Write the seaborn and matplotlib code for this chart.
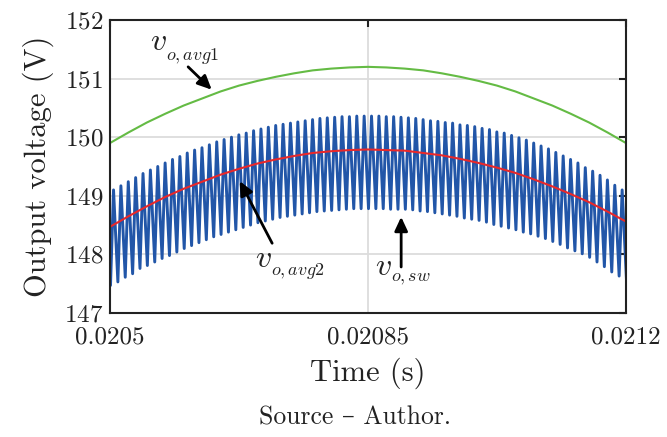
import numpy as np
import pandas as pd
import matplotlib
matplotlib.use("Agg")
import matplotlib.pyplot as plt
import seaborn as sns

# ----------------------------
# 1. DATA
# ----------------------------
T0 = 0.0205          # start of the window (s)
T_SW = 1e-5          # switching period (s)

# peak / trough values of the switched output voltage, one per period
sw_peaks = [
    149.10, 149.17, 149.24, 149.31, 149.38, 149.44, 149.50, 149.56, 149.62, 149.67,
    149.73, 149.78, 149.82, 149.87, 149.92, 149.96, 150.00, 150.04, 150.07, 150.11,
    150.14, 150.17, 150.20, 150.22, 150.24, 150.26, 150.28, 150.30, 150.32, 150.33,
    150.34, 150.35, 150.35, 150.36, 150.36, 150.36, 150.36, 150.35, 150.35, 150.34,
    150.33, 150.32, 150.30, 150.28, 150.27, 150.25, 150.24, 150.21, 150.20, 150.18,
    150.15, 150.13, 150.09, 150.07, 150.03, 149.99, 149.95, 149.90, 149.85, 149.80,
    149.74, 149.68, 149.62, 149.56, 149.48, 149.42, 149.35, 149.27, 149.18, 149.10,
]
sw_troughs = [
    147.47, 147.53, 147.61, 147.67, 147.76, 147.81, 147.87, 147.93, 147.98, 148.04,
    148.10, 148.15, 148.20, 148.25, 148.30, 148.34, 148.38, 148.42, 148.46, 148.50,
    148.54, 148.57, 148.60, 148.63, 148.65, 148.67, 148.69, 148.71, 148.73, 148.74,
    148.75, 148.76, 148.77, 148.78, 148.78, 148.78, 148.78, 148.78, 148.77, 148.77,
    148.77, 148.76, 148.74, 148.73, 148.71, 148.69, 148.67, 148.65, 148.62, 148.60,
    148.58, 148.55, 148.51, 148.48, 148.45, 148.42, 148.38, 148.35, 148.31, 148.27,
    148.22, 148.17, 148.11, 148.06, 148.01, 147.95, 147.87, 147.79, 147.70, 147.63,
    147.56,
]
sw_first = 149.03    # peak just before the window

# averaged voltages sampled every 25 us
avg_time = np.round(np.linspace(0.0205, 0.0212, 29), 6)
avg1 = [149.90, 150.08, 150.25, 150.40, 150.54, 150.66, 150.78, 150.88,
        150.96, 151.03, 151.09, 151.14, 151.17, 151.19, 151.20,
        151.19, 151.17, 151.14, 151.09, 151.03, 150.96, 150.88, 150.78,
        150.66, 150.54, 150.40, 150.25, 150.08, 149.90]
avg2 = [148.47, 148.65, 148.82, 148.98, 149.12, 149.24, 149.36, 149.46,
        149.55, 149.62, 149.68, 149.73, 149.76, 149.78, 149.79,
        149.78, 149.77, 149.73, 149.69, 149.63, 149.56, 149.48, 149.39,
        149.28, 149.16, 149.03, 148.89, 148.73, 148.56]

x_ticks = [0.0205, 0.02085, 0.0212]
x_ticklabels = ["0.0205", "0.02085", "0.0212"]
y_ticks = [147, 148, 149, 150, 151, 152]

# ----------------------------
# 2. BUILD TABLES
# ----------------------------
t_trough = T0 + 0.7e-6 + T_SW * np.arange(len(sw_troughs))
t_peak = T0 + 4.8e-6 + T_SW * np.arange(len(sw_peaks))
t_sw = [T0 - 5.3e-6]
v_sw = [sw_first]
for k in range(len(sw_troughs)):
    t_sw.append(t_trough[k])
    v_sw.append(sw_troughs[k])
    if k < len(sw_peaks):
        t_sw.append(t_peak[k])
        v_sw.append(sw_peaks[k])
df_sw = pd.DataFrame({"t": t_sw, "v": v_sw})
df_avg = pd.DataFrame({"t": avg_time, "avg1": avg1, "avg2": avg2})

# ----------------------------
# 3. STYLE
# ----------------------------
sns.set_theme(style="white")
plt.rcParams["font.family"] = ["cmr10", "DejaVu Serif"]
plt.rcParams["mathtext.fontset"] = "cm"
plt.rcParams["axes.formatter.use_mathtext"] = True

fig = plt.figure(figsize=(6.67, 4.37), dpi=100)
ax = fig.add_axes([0.1649, 0.2838, 0.7736, 0.6705])

# ----------------------------
# 4. PLOT
# ----------------------------
sns.lineplot(data=df_sw, x="t", y="v", ax=ax, color="#2256a8", lw=2.1,
             estimator=None, sort=False, solid_joinstyle="round")
sns.lineplot(data=df_avg, x="t", y="avg2", ax=ax, color="#e8282a", lw=1.5,
             estimator=None)
sns.lineplot(data=df_avg, x="t", y="avg1", ax=ax, color="#64bb44", lw=1.5,
             estimator=None)

ax.set_xlim(0.0205, 0.0212)
ax.set_ylim(147, 152)
ax.set_xticks(x_ticks)
ax.set_xticklabels(x_ticklabels)
ax.set_yticks(y_ticks)
ax.grid(True, color="#dcdcdc", lw=1.3)
ax.set_axisbelow(True)
ax.tick_params(direction="in", length=5, width=1.5, top=True, right=True,
               labelsize=18, colors="#222222")
ax.tick_params(axis="x", pad=10)
ax.tick_params(axis="y", pad=5)
for s in ax.spines.values():
    s.set_linewidth(1.5)
    s.set_color("#222222")

ax.set_xlabel("Time (s)", fontsize=22, color="#222222", labelpad=6)
ax.set_ylabel("Output voltage (V)", fontsize=22, color="#222222", labelpad=7)

# annotations
arrow = dict(arrowstyle="-|>,head_length=0.6,head_width=0.28", lw=2,
             color="black", mutation_scale=14, shrinkA=0, shrinkB=0)
ax.annotate("", xy=(0.020638, 150.81), xytext=(0.020606, 151.20), arrowprops=arrow)
ax.annotate("", xy=(0.020676, 149.25), xytext=(0.020720, 148.19), arrowprops=arrow)
ax.annotate("", xy=(0.020895, 148.64), xytext=(0.020895, 147.785), arrowprops=arrow)

labels = [
    (0.020554, 151.488, 0.0205760, 151.317, "o,avg1"),
    (0.0206967, 147.785, 0.0207187, 147.648, "o,avg2"),
    (0.0208595, 147.648, 0.0208815, 147.529, "o,sw"),
]
for tx, ty, sx, sy, sub in labels:
    ax.text(tx, ty, r"$v$", fontsize=23, color="#222222", va="baseline")
    ax.text(sx, sy, "$" + sub + "$", fontsize=13, color="#222222", va="baseline")

fig.text(0.532, 1 - 418 / 437, "Source – Author.", ha="center", va="center",
         fontsize=18.5, color="#222222")

fig.savefig("out.png", dpi=100)
